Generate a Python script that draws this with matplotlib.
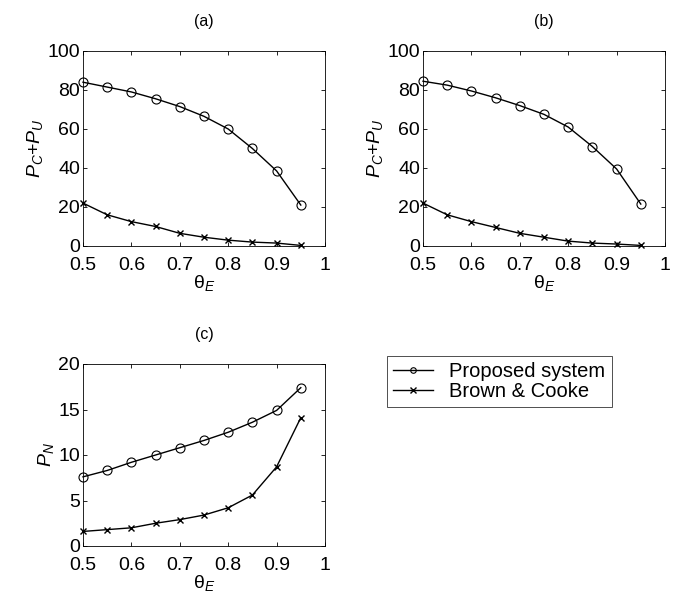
import matplotlib
matplotlib.use("Agg")
import matplotlib.pyplot as plt

plt.rcParams["font.family"] = ["Liberation Sans", "DejaVu Sans"]
plt.rcParams["mathtext.fontset"] = "custom"
plt.rcParams["mathtext.rm"] = "Liberation Sans"
plt.rcParams["mathtext.it"] = "Liberation Sans:italic"

# theta_E waarden
theta = [0.5, 0.55, 0.6, 0.65, 0.7, 0.75, 0.8, 0.85, 0.9, 0.95]

# (a)
prop_a = [84, 81.5, 79, 75.5, 71.5, 66.5, 60, 50, 38.5, 21]
brown_a = [22, 16, 12.5, 10, 6.5, 4.5, 3, 2, 1.5, 0.3]

# (b)
prop_b = [84.5, 82.5, 79.5, 76, 72, 67.5, 61, 51, 39.5, 21.5]
brown_b = [22, 16, 12.5, 9.5, 6.5, 4.5, 2.5, 1.5, 1, 0.3]

# (c)
prop_c = [7.6, 8.3, 9.2, 10.0, 10.8, 11.6, 12.5, 13.6, 14.9, 17.4]
brown_c = [1.6, 1.8, 2.0, 2.5, 2.9, 3.4, 4.2, 5.6, 8.7, 14.1]

W, H = 678, 605
fig = plt.figure(figsize=(W / 100, H / 100), dpi=100)


def make_axes(left, top, right, bottom):
    return fig.add_axes([left / W, 1 - bottom / H, (right - left) / W, (bottom - top) / H])


def style(ax, title, ylabel, ylim, yticks):
    ax.set_xlim(0.5, 1.0)
    ax.set_ylim(*ylim)
    ax.set_xticks([0.5, 0.6, 0.7, 0.8, 0.9, 1.0])
    ax.set_xticklabels(["0.5", "0.6", "0.7", "0.8", "0.9", "1"])
    ax.set_yticks(yticks)
    ax.tick_params(direction="in", top=True, right=True, labelsize=14, length=3, width=0.6)
    ax.tick_params(axis="x", pad=8)
    ax.tick_params(axis="y", pad=2)
    for s in ax.spines.values():
        s.set_linewidth(0.6)
    ax.set_title(title, fontsize=11.5, pad=18)
    ax.set_xlabel(r"$\mathrm{\theta}_E$", fontsize=14, labelpad=-1)
    ax.set_ylabel(ylabel, fontsize=14, labelpad=2)


def draw(ax, prop, brown):
    l1, = ax.plot(theta, prop, "-", color="black", marker="o", markersize=6.5,
                  markerfacecolor="none", markeredgewidth=0.8, linewidth=1.0, clip_on=False)
    l2, = ax.plot(theta, brown, "-", color="black", marker="x", markersize=4.5,
                  markeredgewidth=1.0, linewidth=1.0, clip_on=False)
    return l1, l2


ax_a = make_axes(83, 51, 325, 246)
draw(ax_a, prop_a, brown_a)
style(ax_a, "(a)", r"$P_C$+$P_U$", (0, 100), [0, 20, 40, 60, 80, 100])

ax_b = make_axes(423, 51, 665, 246)
draw(ax_b, prop_b, brown_b)
style(ax_b, "(b)", r"$P_C$+$P_U$", (0, 100), [0, 20, 40, 60, 80, 100])

ax_c = make_axes(83, 364, 325, 546)
l1, l2 = draw(ax_c, prop_c, brown_c)
style(ax_c, "(c)", r"$P_N$", (0, 20), [0, 5, 10, 15, 20])

leg = fig.legend([l1, l2], ["Proposed system", "Brown & Cooke"],
                 loc="upper left", bbox_to_anchor=(387 / W, 1 - 356 / H),
                 fontsize=14.5, frameon=True, fancybox=False, edgecolor="black",
                 handlelength=2.0, borderpad=0.3, labelspacing=0.05, handletextpad=0.8,
                 borderaxespad=0)
leg.get_frame().set_linewidth(0.6)
for h in leg.legend_handles:
    h.set_markersize(4)

fig.savefig("out.png", dpi=100)
